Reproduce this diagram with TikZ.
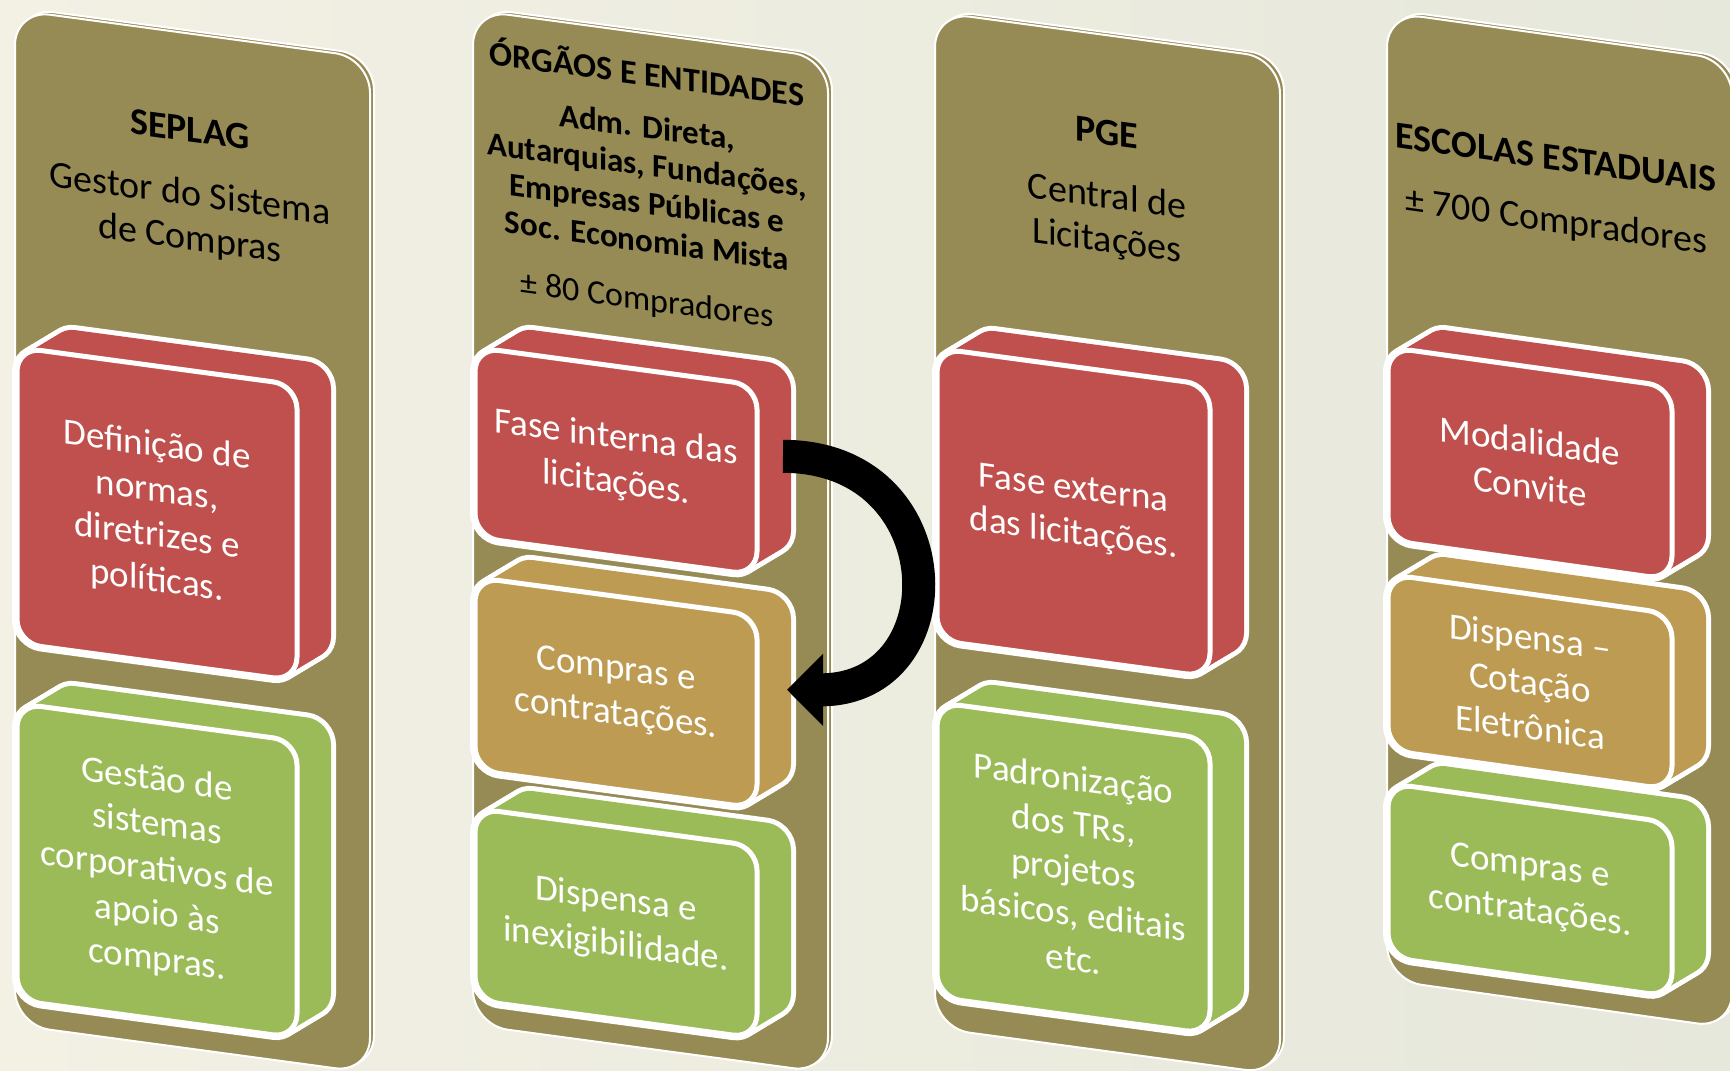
\documentclass[tikz,border=0pt]{standalone}
\usepackage{fontspec}
\setmainfont{Carlito}
\usetikzlibrary{arrows.meta,calc}

\definecolor{paper}{HTML}{F3F0E4}
\definecolor{papertint}{HTML}{E6E8DB}
\definecolor{olivecol}{HTML}{968B55}
\definecolor{slabred}{HTML}{C0504D}
\definecolor{slabtan}{HTML}{BE9B52}
\definecolor{slabgreen}{HTML}{9BBB59}

\tikzset{
  pillar/.style={fill=olivecol, draw=white, line width=2pt, rounded corners=35pt},
  face/.style={draw=white, line width=5pt, rounded corners=24pt, transform shape,
    anchor=south west, inner sep=0pt, outer sep=0pt, text=white, align=center,
    font=\fontsize{37}{45}\selectfont},
  head/.style={transform shape, align=center, text=black, inner sep=0pt},
  title/.style={head, font=\fontsize{38}{46}\selectfont\bfseries},
  subtitle/.style={head, font=\fontsize{38}{44}\selectfont},
  bigarrow/.style={line width=33pt, -{Triangle[length=36pt,width=70pt]}},
}

% extruded back part of a box: x, y (lower left), width, height, colour
\newcommand{\slab}[5]{%
  \foreach \k in {0,...,10}
    \draw[white, line width=10pt, rounded corners=24pt] (#1+3.4*\k,#2+2.5*\k) rectangle ++(#3,#4);
  \foreach \k in {0,...,10}
    \fill[#5, rounded corners=24pt] (#1+3.4*\k,#2+2.5*\k) rectangle ++(#3,#4);
}

\begin{document}
\begin{tikzpicture}[x=1pt, y=1pt]
  \useasboundingbox (0,0) rectangle (1730,-1071);
  \clip (0,0) rectangle (1730,-1071);
  \shade[left color=paper, right color=papertint] (0,0) rectangle (1730,-1071);

  % SEPLAG
  \begin{scope}[shift={(15,0)}, yslant=-0.135]
    \draw[pillar] (4,-7) rectangle (359,-1022);
    \draw[pillar] (0,-10) rectangle (355,-1025);
    \node[title] at (175,-106) (seplag) {SEPLAG};
    \node[subtitle] at (175,-194) (seplagsub) {Gestor do Sistema\\de Compras};
    \slab{2}{-643}{280}{296}{slabred}
    \node[face, fill=slabred, minimum width=280pt, minimum height=296pt] at (2,-643) (seplagA) {Definição de\\normas,\\diretrizes e\\políticas.};
    \slab{2}{-1000}{280}{297}{slabgreen}
    \node[face, fill=slabgreen, minimum width=280pt, minimum height=297pt] at (2,-1000) (seplagB) {Gestão de\\sistemas\\corporativos de\\apoio às\\compras.};
  \end{scope}

  % Orgaos e entidades
  \begin{scope}[shift={(473,0)}, yslant=-0.135]
    \draw[pillar] (4,-7) rectangle (359,-1022);
    \draw[pillar] (0,-10) rectangle (355,-1025);
    \node[head, font=\fontsize{34}{40}\selectfont\bfseries] at (174,-48) (orgtitle) {ÓRGÃOS E ENTIDADES};
    \node[head, font=\fontsize{33}{38}\selectfont\bfseries] at (174,-160) (orglist) {Adm. Direta,\\Autarquias, Fundações,\\Empresas Públicas e\\Soc. Economia Mista};
    \node[head, font=\fontsize{34}{40}\selectfont] at (174,-278) (orgsub) {± 80 Compradores};
    \slab{2}{-1000}{282}{192}{slabgreen}
    \node[face, fill=slabgreen, minimum width=282pt, minimum height=192pt] at (2,-1000) (orgC) {Dispensa e\\inexigibilidade.};
    \slab{2}{-770}{282}{193}{slabtan}
    \node[face, fill=slabtan, minimum width=282pt, minimum height=193pt] at (2,-770) (orgB) {Compras e\\contratações.};
    \slab{2}{-537}{282}{190}{slabred}
    \node[face, fill=slabred, minimum width=282pt, minimum height=190pt] at (2,-537) (orgA) {Fase interna das\\licitações.};
  \end{scope}

  % PGE
  \begin{scope}[shift={(935,0)}, yslant=-0.135]
    \draw[pillar] (4,-9) rectangle (349,-1025);
    \draw[pillar] (0,-12) rectangle (345,-1028);
    \node[title] at (172,-109) (pge) {PGE};
    \node[subtitle] at (172,-197) (pgesub) {Central de\\Licitações};
    \slab{2}{-640}{273}{292}{slabred}
    \node[face, fill=slabred, minimum width=273pt, minimum height=292pt] at (2,-640) (pgeA) {Fase externa\\das licitações.};
    \slab{2}{-997}{273}{295}{slabgreen}
    \node[face, fill=slabgreen, minimum width=273pt, minimum height=295pt] at (2,-997) (pgeB) {Padronização\\dos TRs,\\projetos\\básicos, editais\\etc.};
  \end{scope}

  % Escolas estaduais
  \begin{scope}[shift={(1387,0)}, yslant=-0.14]
    \draw[pillar] (4,-9) rectangle (349,-977);
    \draw[pillar] (0,-12) rectangle (345,-980);
    \node[title] at (169,-134) (esc) {ESCOLAS ESTADUAIS};
    \node[subtitle] at (169,-199) (escsub) {± 700 Compradores};
    \slab{1}{-957}{284}{174}{slabgreen}
    \node[face, fill=slabgreen, minimum width=284pt, minimum height=174pt] at (1,-957) (escC) {Compras e\\contratações.};
    \slab{1}{-750}{284}{176}{slabtan}
    \node[face, fill=slabtan, minimum width=284pt, minimum height=176pt] at (1,-750) (escB) {Dispensa –\\Cotação\\Eletrônica};
    \slab{1}{-540}{284}{193}{slabred}
    \node[face, fill=slabred, minimum width=284pt, minimum height=193pt] at (1,-540) (escA) {Modalidade\\Convite};
  \end{scope}

  % internal phase back to purchasing
  \draw[bigarrow] ($(orgA.east)+(26,24)$) .. controls +(172,0) and +(172,0) .. ($(orgB.east)+(30,22)$);
\end{tikzpicture}
\end{document}
